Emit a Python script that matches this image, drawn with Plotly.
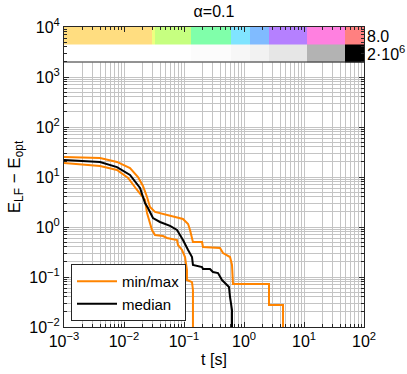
import plotly.graph_objects as go

# min / max / median traces (time [s], energy gap)
t_max = [0.001, 0.00398, 0.00764, 0.0126, 0.0171, 0.0207, 0.0242, 0.0271, 0.0329, 0.0447,
         0.0656, 0.0962, 0.117, 0.126, 0.141, 0.2, 0.207, 0.398, 0.447, 0.585, 0.631, 0.656,
         2.61, 2.61, 4.47, 4.47]
e_max = [25.1, 24.0, 20.0, 15.1, 10.0, 6.61, 3.98, 2.51, 2.0, 1.82,
         1.66, 1.45, 1.15, 0.871, 0.5, 0.5, 0.398, 0.38, 0.302, 0.251, 0.174, 0.0724,
         0.0724, 0.0275, 0.0275, 0.005]

t_med = [0.001, 0.00398, 0.00764, 0.0126, 0.0185, 0.0224, 0.0251, 0.0304, 0.0398, 0.0585,
         0.0764, 0.0962, 0.117, 0.136, 0.141, 0.2, 0.207, 0.271, 0.304, 0.369, 0.43, 0.521,
         0.562, 0.585, 0.631, 0.631]
e_med = [21.9, 20.0, 15.8, 11.0, 6.03, 3.02, 2.4, 1.51, 1.26, 1.05,
         0.871, 0.55, 0.347, 0.251, 0.174, 0.158, 0.145, 0.145, 0.126, 0.12, 0.087, 0.0692,
         0.063, 0.0398, 0.0219, 0.005]

t_min = [0.001, 0.00398, 0.00764, 0.0117, 0.0165, 0.0224, 0.0242, 0.0271, 0.0293, 0.0329,
         0.0447, 0.0521, 0.0764, 0.0794, 0.0927, 0.104, 0.112, 0.112, 0.136, 0.141, 0.141]
e_min = [19.1, 16.6, 13.8, 9.55, 5.5, 3.47, 1.91, 1.26, 0.871, 0.692,
         0.661, 0.603, 0.55, 0.437, 0.347, 0.251, 0.138, 0.087, 0.079, 0.055, 0.005]

# colour strip (upper row) and grey strip (lower row) along time
strip_t_edges = [0.001, 0.0293, 0.0329, 0.131, 0.607, 1.259, 2.61, 11.2, 48.2, 100]
strip_colors = ["#FFDD80", "#EEFF80", "#C6FF80", "#80FFAA", "#80E4FF", "#80BBFF",
                "#B580FF", "#FF80E0", "#FF8080"]
gray_t_edges = [0.001, 0.131, 0.607, 1.259, 2.61, 11.2, 48.2, 100]
gray_colors = ["#FFFFFF", "#FCFCFC", "#F7F7F7", "#F2F2F2", "#E6E6E6", "#B3B3B3", "#000000"]
strip_y_edges = [1995, 4467, 10000]
strip_labels = ["8.0", "2·10<sup>6</sup>"]

x_tickvals = [1e-3, 1e-2, 1e-1, 1, 10, 100]
x_ticktext = ["10<sup>−3</sup>", "10<sup>−2</sup>", "10<sup>−1</sup>",
              "10<sup>0</sup>", "10<sup>1</sup>", "10<sup>2</sup>"]
y_tickvals = [1e-2, 1e-1, 1, 10, 100, 1000, 10000]
y_ticktext = ["10<sup>−2</sup>", "10<sup>−1</sup>", "10<sup>0</sup>", "10<sup>1</sup>",
              "10<sup>2</sup>", "10<sup>3</sup>", "10<sup>4</sup>"]

orange = "#FF8400"
font = "Liberation Sans, Arial, sans-serif"


def discrete_scale(colors):
    n = len(colors)
    return [[i / (n - 1), c] for i, c in enumerate(colors)]


def minor_vals(lo, hi):
    return [m * 10.0 ** k for k in range(lo, hi) for m in range(2, 10)]


fig = go.Figure()

fig.add_trace(go.Heatmap(
    x=strip_t_edges, y=strip_y_edges[1:],
    z=[list(range(len(strip_colors)))],
    colorscale=discrete_scale(strip_colors), zmin=0, zmax=len(strip_colors) - 1,
    showscale=False, hoverinfo="skip",
))
fig.add_trace(go.Heatmap(
    x=gray_t_edges, y=strip_y_edges[:2],
    z=[list(range(len(gray_colors)))],
    colorscale=discrete_scale(gray_colors), zmin=0, zmax=len(gray_colors) - 1,
    showscale=False, hoverinfo="skip",
))

fig.add_trace(go.Scatter(x=t_max, y=e_max, mode="lines", name="min/max",
                         line=dict(color=orange, width=2), showlegend=True))
fig.add_trace(go.Scatter(x=t_min, y=e_min, mode="lines", name="min",
                         line=dict(color=orange, width=2), showlegend=False))
fig.add_trace(go.Scatter(x=t_med, y=e_med, mode="lines", name="median",
                         line=dict(color="black", width=2)))

# separator between strips and the main panel
fig.add_shape(type="line", xref="paper", yref="paper", x0=0, x1=1,
              y0=265 / 300, y1=265 / 300, line=dict(color="#262626", width=1))

for lab, yp in zip(strip_labels, [291 / 300, 274 / 300]):
    fig.add_annotation(text=lab, xref="paper", yref="paper", x=1.004, y=yp,
                       xanchor="left", yanchor="middle", showarrow=False,
                       font=dict(size=16, color="black", family=font))

axis_common = dict(
    type="log", automargin=False,
    showgrid=True, gridcolor="#C4C4C4", gridwidth=1,
    showline=True, linecolor="#262626", linewidth=1, mirror="ticks",
    ticks="inside", ticklen=5, tickcolor="#262626",
    zeroline=False, tickfont=dict(size=16, color="black", family=font),
)
minor_common = dict(tickmode="array", ticks="inside", ticklen=3, tickcolor="#262626",
                    showgrid=True, gridcolor="#C4C4C4", gridwidth=1)

fig.update_layout(
    width=407, height=374,
    margin=dict(l=64, r=43, t=27, b=47),
    paper_bgcolor="white", plot_bgcolor="white",
    font=dict(family=font, color="black"),
    title=dict(text="α=0.1", x=214 / 407, xanchor="center", y=1 - 11 / 374,
               yanchor="middle", font=dict(size=16, color="black", family=font)),
    xaxis=dict(axis_common, range=[-3, 2], tickvals=x_tickvals, ticktext=x_ticktext,
               minor=dict(minor_common, tickvals=minor_vals(-3, 2)),
               title=dict(text="t [s]", font=dict(size=16), standoff=4)),
    yaxis=dict(axis_common, range=[-2, 4], tickvals=y_tickvals, ticktext=y_ticktext,
               minor=dict(minor_common, tickvals=minor_vals(-2, 4)),
               title=dict(text="E<sub>LF</sub> − E<sub>opt</sub>", font=dict(size=17), standoff=4)),
    legend=dict(x=7 / 300, y=6 / 300, xanchor="left", yanchor="bottom",
                bgcolor="white", bordercolor="#262626", borderwidth=1,
                font=dict(size=15, color="black", family=font),
                tracegroupgap=0, itemwidth=40),
    showlegend=True,
)

# drop the default page margin so the figure sits at the window origin
fig.write_html("out.html", config={"displayModeBar": False},
               post_script="document.body.style.margin='0';")
